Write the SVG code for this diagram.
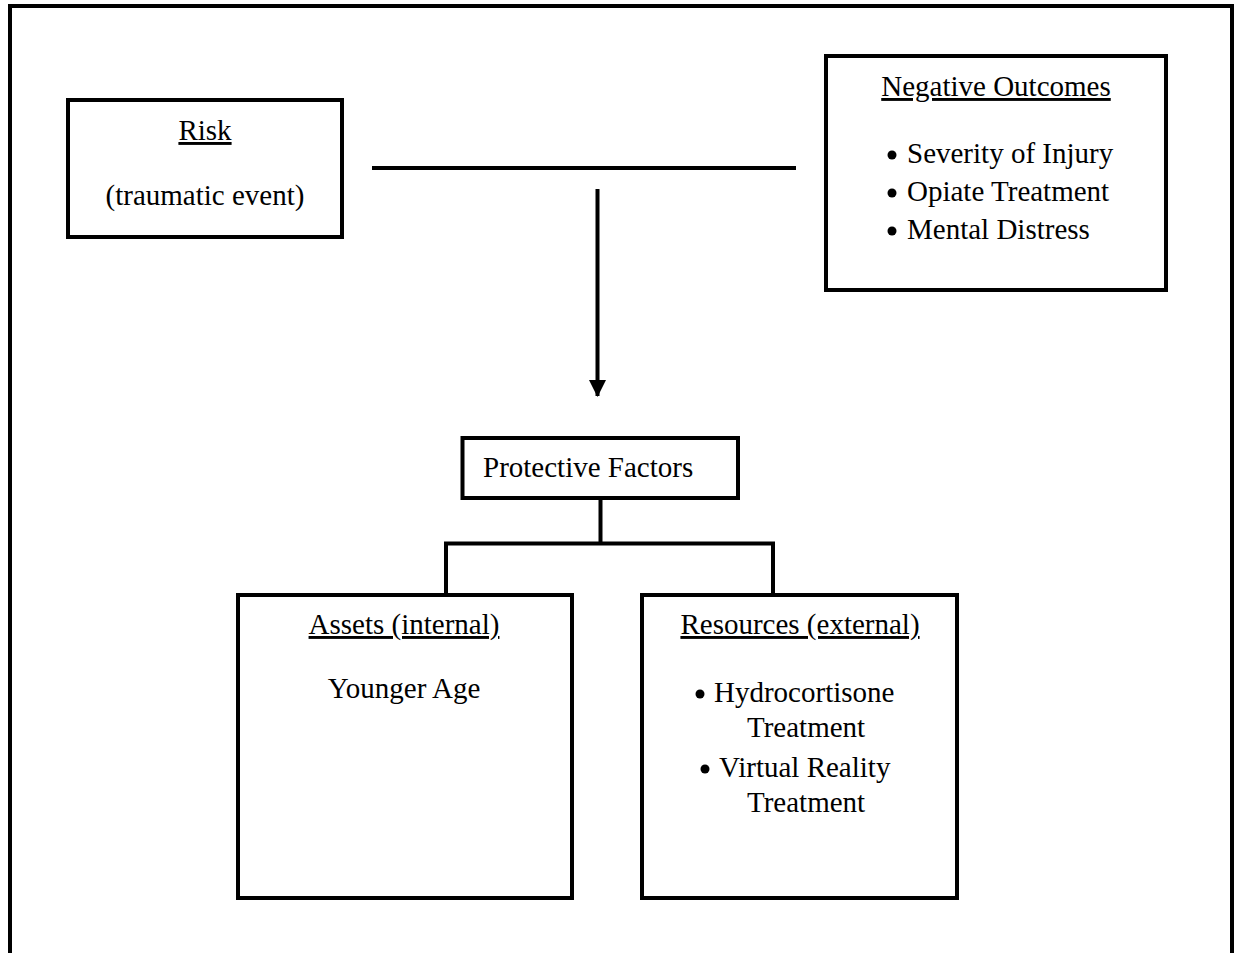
<svg xmlns="http://www.w3.org/2000/svg" width="1235" height="953" viewBox="0 0 1235 953">
<style>
.box{fill:#fff;stroke:#000;stroke-width:4}
.ln{fill:none;stroke:#000;stroke-width:4}
.b{fill:#000}
text{font-family:"Liberation Serif","Times New Roman",serif;font-size:29px;fill:#000}
.c{text-anchor:middle}
.u{text-decoration:underline}
</style>
<defs>
<marker id="ah" markerUnits="userSpaceOnUse" markerWidth="17" markerHeight="17" refX="16" refY="8.5" orient="auto" viewBox="0 0 17 17">
<path d="M0,0 L17,8.5 L0,17 Z" fill="#000"/>
</marker>
</defs>
<rect width="1235" height="953" fill="#fff"/>
<path class="ln" d="M10,953 V6 H1232 V953"/>
<g id="connectors">
<line class="ln" x1="372" y1="168" x2="796" y2="168"/>
<line class="ln" x1="597.5" y1="189" x2="597.5" y2="396" marker-end="url(#ah)"/>
<line class="ln" x1="600.5" y1="498" x2="600.5" y2="545"/>
<path class="ln" d="M446,594 V543.5 H773 V594"/>
</g>
<g id="risk">
<rect class="box" x="68" y="100" width="274" height="137"/>
<text class="c u" x="205" y="140">Risk</text>
<text class="c" x="205" y="205">(traumatic event)</text>
</g>
<g id="negative-outcomes">
<rect class="box" x="826" y="56" width="340" height="234"/>
<text class="c u" x="996" y="96">Negative Outcomes</text>
<circle class="b" cx="892" cy="155" r="4.5"/>
<circle class="b" cx="892" cy="193" r="4.5"/>
<circle class="b" cx="892" cy="231" r="4.5"/>
<text x="907" y="163">Severity of Injury</text>
<text x="907" y="201">Opiate Treatment</text>
<text x="907" y="239">Mental Distress</text>
</g>
<g id="protective-factors">
<rect class="box" x="462.5" y="438" width="275.5" height="60"/>
<text x="483" y="477">Protective Factors</text>
</g>
<g id="assets">
<rect class="box" x="238" y="595" width="334" height="303"/>
<text class="c u" x="404" y="634">Assets (internal)</text>
<text class="c" x="404" y="698">Younger Age</text>
</g>
<g id="resources">
<rect class="box" x="642" y="595" width="315" height="303"/>
<text class="c u" x="800" y="634">Resources (external)</text>
<circle class="b" cx="700" cy="694" r="4.5"/>
<text x="714" y="702">Hydrocortisone</text>
<text x="747" y="737">Treatment</text>
<circle class="b" cx="705" cy="769" r="4.5"/>
<text x="719" y="777">Virtual Reality</text>
<text x="747" y="812">Treatment</text>
</g>
</svg>
